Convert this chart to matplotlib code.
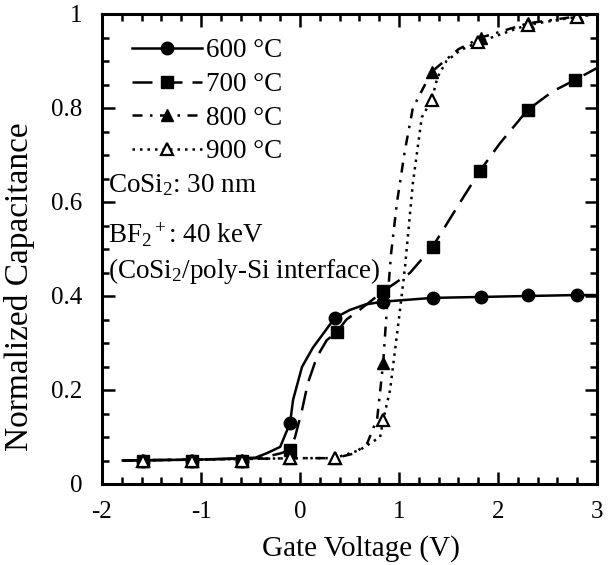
import matplotlib
matplotlib.use('Agg')
import matplotlib.pyplot as plt
from matplotlib.ticker import MultipleLocator, FormatStrFormatter

plt.rcParams['font.family'] = ['Liberation Serif', 'DejaVu Serif']
plt.rcParams['mathtext.fontset'] = 'custom'
plt.rcParams['mathtext.rm'] = 'Liberation Serif'
plt.rcParams['mathtext.it'] = 'Liberation Serif:italic'
plt.rcParams['axes.unicode_minus'] = False

# measured points (markers)
v_600 = [-1.59, -1.09, -0.59, -0.10, 0.35, 0.84, 1.34, 1.83, 2.30, 2.80]
c_600 = [0.05, 0.05, 0.05, 0.13, 0.353, 0.387, 0.396, 0.398, 0.402, 0.402]
v_700 = [-1.59, -1.09, -0.59, -0.10, 0.37, 0.84, 1.34, 1.82, 2.30, 2.78]
c_700 = [0.05, 0.05, 0.05, 0.072, 0.323, 0.41, 0.505, 0.667, 0.796, 0.86]
v_800 = [-1.59, -1.09, -0.59, -0.10, 0.35, 0.84, 1.33, 1.83, 2.30, 2.80]
c_800 = [0.05, 0.05, 0.05, 0.055, 0.055, 0.257, 0.877, 0.95, 0.98, 0.995]
v_900 = [-1.59, -1.09, -0.59, -0.10, 0.35, 0.84, 1.33, 1.80, 2.30, 2.80]
c_900 = [0.05, 0.05, 0.05, 0.055, 0.055, 0.136, 0.817, 0.94, 0.977, 0.994]

# fitted curves
cv_600 = [-1.79, -1.0, -0.45, -0.33, -0.2, -0.10, -0.07, 0.02, 0.13, 0.27, 0.35, 0.5, 0.66, 0.84, 1.34, 1.83, 2.3, 2.8, 3.0]
cc_600 = [0.05, 0.052, 0.056, 0.066, 0.079, 0.13, 0.179, 0.249, 0.29, 0.33, 0.353, 0.37, 0.382, 0.388, 0.396, 0.398, 0.40, 0.402, 0.402]
cv_700 = [-1.79, -1.0, -0.4, -0.2, -0.10, -0.05, 0.02, 0.08, 0.17, 0.27, 0.37, 0.47, 0.6, 0.84, 1.11, 1.34, 1.59, 1.82, 2.02, 2.30, 2.55, 2.78, 3.0]
cc_700 = [0.05, 0.052, 0.055, 0.065, 0.072, 0.10, 0.157, 0.215, 0.27, 0.306, 0.323, 0.35, 0.37, 0.41, 0.449, 0.505, 0.59, 0.667, 0.725, 0.796, 0.835, 0.86, 0.885]
cv_800 = [-1.79, -1.0, 0.0, 0.35, 0.55, 0.68, 0.78, 0.84, 0.86, 0.89, 0.92, 0.98, 1.06, 1.14, 1.33, 1.6, 1.83, 2.3, 2.8, 3.0]
cc_800 = [0.05, 0.052, 0.055, 0.055, 0.065, 0.087, 0.14, 0.257, 0.32, 0.41, 0.49, 0.60, 0.71, 0.80, 0.877, 0.925, 0.95, 0.98, 0.995, 1.0]
cv_900 = [-1.79, -1.0, 0.0, 0.35, 0.6, 0.81, 0.84, 0.91, 0.96, 1.01, 1.06, 1.14, 1.23, 1.33, 1.39, 1.48, 1.62, 1.80, 2.3, 2.8, 3.0]
cc_900 = [0.05, 0.052, 0.055, 0.055, 0.072, 0.10, 0.136, 0.20, 0.285, 0.37, 0.46, 0.64, 0.78, 0.817, 0.866, 0.90, 0.923, 0.94, 0.977, 0.994, 1.0]

labels = ['600 °C', '700 °C', '800 °C', '900 °C']

fig = plt.figure(figsize=(6.11, 5.65), dpi=100)
ax = fig.add_axes([102/611, 81/565, 495/611, 470/565])

lw = 1.8
ax.plot(cv_600, cc_600, 'k-', lw=lw)
ax.plot(cv_700, cc_700, 'k', lw=lw, dashes=(8, 4))
ax.plot(cv_800, cc_800, 'k', lw=lw, dashes=(4, 3, 1, 3))
ax.plot(cv_900, cc_900, 'k', lw=lw, dashes=(1, 2))

ax.plot(v_600, c_600, 'ko', ms=9, ls='none')
ax.plot(v_700, c_700, 'ks', ms=9, ls='none')
ax.plot(v_800, c_800, 'k^', ms=8, ls='none')
ax.plot(v_900, c_900, '^', ms=8, mfc='white', mec='k', mew=1.6, ls='none')

# legend handles
h1, = ax.plot([], [], 'k-', marker='o', ms=9, lw=lw)
h2, = ax.plot([], [], 'k', marker='s', ms=9, lw=lw, dashes=(8, 4))
h3, = ax.plot([], [], 'k', marker='^', ms=8, lw=lw, dashes=(4, 3, 1, 3))
h4, = ax.plot([], [], 'k', marker='^', ms=8, mfc='white', mec='k', mew=1.6, lw=lw, dashes=(1, 2))
ax.legend([h1, h2, h3, h4], labels, loc='upper left', bbox_to_anchor=(30/495, 0.948),
          frameon=False, fontsize=19.5, handlelength=2.6, handletextpad=0.15,
          labelspacing=0.32, numpoints=1, borderaxespad=0, borderpad=0)

ax.text(0.013, 0.621, 'CoSi$_2$: 30 nm', transform=ax.transAxes, fontsize=19.5, va='baseline')
ax.text(0.013, 0.513, 'BF$_2$$^+$: 40 keV', transform=ax.transAxes, fontsize=19.5, va='baseline')
ax.text(0.013, 0.438, '(CoSi$_2$/poly-Si interface)', transform=ax.transAxes, fontsize=19.5, va='baseline')

ax.set_xlim(-2, 3)
ax.set_ylim(0, 1)
ax.xaxis.set_major_locator(MultipleLocator(1))
ax.xaxis.set_minor_locator(MultipleLocator(0.2))
ax.yaxis.set_major_locator(MultipleLocator(0.2))
ax.yaxis.set_minor_locator(MultipleLocator(0.05))
ax.yaxis.set_major_formatter(FormatStrFormatter('%g'))
ax.xaxis.set_major_formatter(FormatStrFormatter('%g'))
ax.tick_params(which='both', direction='in', top=True, right=True, width=1.8, labelsize=18)
ax.tick_params(axis='x', pad=12)
ax.tick_params(axis='y', pad=14)
ax.tick_params(which='major', length=9)
ax.tick_params(which='minor', length=5)
for s in ax.spines.values():
    s.set_linewidth(2.2)

ax.set_xlabel('Gate Voltage (V)', fontsize=21)
ax.set_ylabel('Normalized Capacitance', fontsize=24)
ax.xaxis.set_label_coords(0.523, -0.108)
ax.yaxis.set_label_coords(-0.135, 0.419)

fig.savefig('out.png', dpi=100)
